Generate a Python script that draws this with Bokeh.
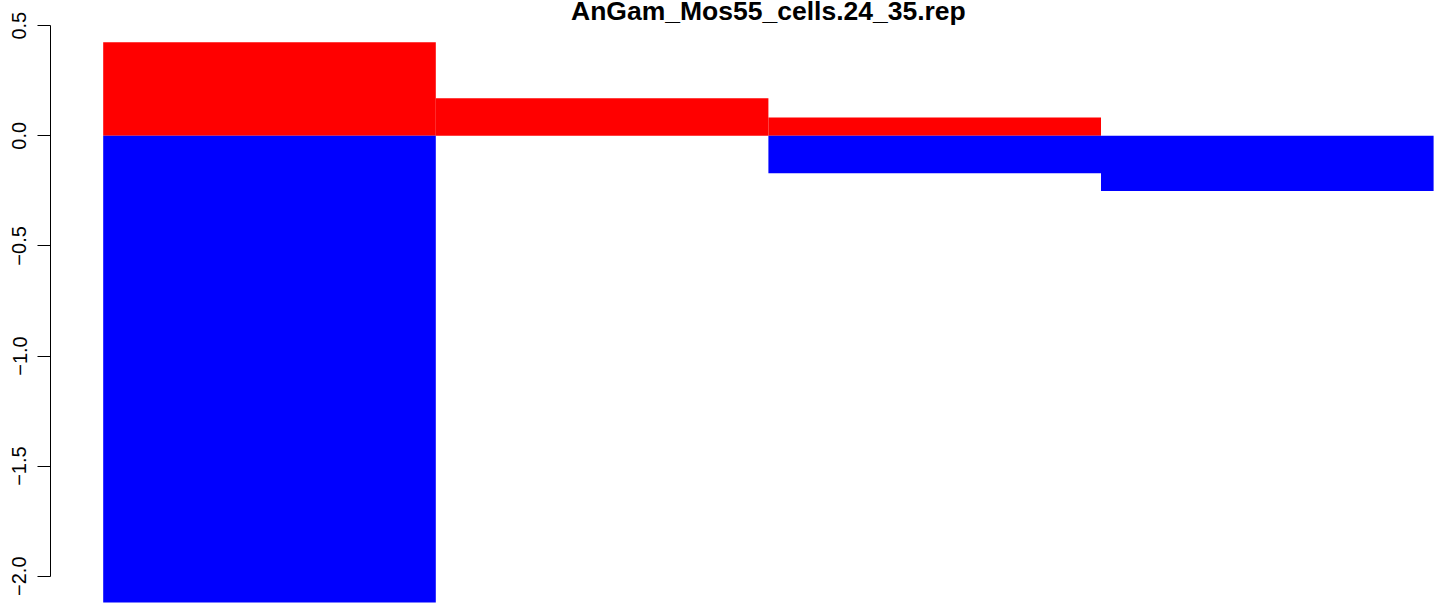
from bokeh.plotting import figure
from bokeh.models import Range1d, FixedTicker, LinearAxis, Label
from bokeh.embed import file_html
from bokeh.resources import INLINE

# ---- data ----
title_text = "AnGam_Mos55_cells.24_35.rep"
bar_centers = [0.5, 1.5, 2.5, 3.5]
pos_values = [0.425, 0.171, 0.083, 0.0]
neg_values = [-2.12, 0.0, -0.170, -0.251]
y_ticks = [-2.0, -1.5, -1.0, -0.5, 0.0, 0.5]
y_tick_labels = ["\u22122.0", "\u22121.5", "\u22121.0", "\u22120.5", "0.0", "0.5"]

W, H = 1444, 603
L = 50
px_x = 332.6
px_y = 220.2
y_end = 135.3 / px_y
y_start = y_end - H / px_y
x_start = -(102.7 - L) / px_x
x_end = x_start + (W - L) / px_x

p = figure(width=W, height=H, output_backend="svg", toolbar_location=None,
           x_range=Range1d(x_start, x_end), y_range=Range1d(y_start, y_end),
           x_axis_location=None, y_axis_location=None,
           min_border_left=L, min_border_right=0, min_border_top=0, min_border_bottom=0)
p.xgrid.visible = False
p.ygrid.visible = False
p.outline_line_color = None
p.background_fill_color = "white"
p.border_fill_color = "white"

p.vbar(x=bar_centers, width=1.0, bottom=0, top=pos_values,
       fill_color="#FF0000", line_color=None)
p.vbar(x=bar_centers, width=1.0, bottom=neg_values, top=0,
       fill_color="#0000FF", line_color=None)

ax = LinearAxis(ticker=FixedTicker(ticks=y_ticks))
ax.major_label_overrides = {t: s for t, s in zip(y_ticks, y_tick_labels)}
ax.bounds = (min(y_ticks), max(y_ticks))
ax.major_tick_out = 13
ax.major_tick_in = 0
ax.minor_tick_out = 0
ax.minor_tick_in = 0
ax.major_label_orientation = "vertical"
ax.major_label_standoff = 11
ax.major_label_text_font = "Liberation Sans"
ax.major_label_text_font_size = "20px"
ax.major_label_text_color = "black"
ax.axis_line_color = "black"
ax.major_tick_line_color = "black"
p.add_layout(ax, "left")

title = Label(x=2.0, y=y_end - 10.0 / px_y, text=title_text,
              text_align="center", text_baseline="alphabetic",
              text_font="Liberation Sans", text_font_style="bold",
              text_font_size="26.5px", text_color="black")
p.add_layout(title)

open("out.html", "w").write(file_html(p, INLINE))
